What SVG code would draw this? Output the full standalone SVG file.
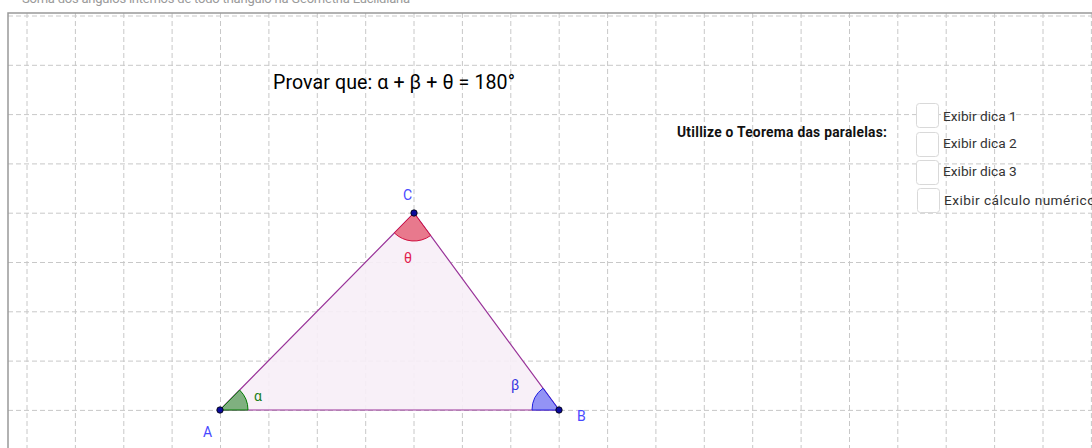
<svg xmlns="http://www.w3.org/2000/svg" width="1092" height="448" viewBox="0 0 1092 448">
<style>
.grid line{stroke:#c8c8c8;stroke-width:1;stroke-dasharray:5,3}
.t{font-family:Roboto,"Liberation Sans",sans-serif}
.cb{fill:#fff;stroke:#d9d9d9;stroke-width:1}
.cbl{font-family:Roboto,"Liberation Sans",sans-serif;font-size:13.7px;fill:#333}
.pt{fill:#0a0a9a;stroke:#000;stroke-width:0.8}
.lbl{font-family:Roboto,"Liberation Sans",sans-serif;font-size:14px}
</style>
<rect width="1092" height="448" fill="#fff"/>
<text class="t" x="22" y="3" font-size="13" fill="#9a9a9a" textLength="388">Soma dos ângulos internos de todo triângulo na Geometria Euclidiana</text>
<g class="grid" id="grid">
<line x1="8" y1="16" x2="1092" y2="16"/>
<line x1="8" y1="65.3" x2="1092" y2="65.3"/>
<line x1="8" y1="114.6" x2="1092" y2="114.6"/>
<line x1="8" y1="163.9" x2="1092" y2="163.9"/>
<line x1="8" y1="213.2" x2="1092" y2="213.2"/>
<line x1="8" y1="262.5" x2="1092" y2="262.5"/>
<line x1="8" y1="311.8" x2="1092" y2="311.8"/>
<line x1="8" y1="361.1" x2="1092" y2="361.1"/>
<line x1="8" y1="410.4" x2="1092" y2="410.4"/>
<line x1="27" y1="13" x2="27" y2="448"/>
<line x1="75.4" y1="13" x2="75.4" y2="448"/>
<line x1="123.8" y1="13" x2="123.8" y2="448"/>
<line x1="172.1" y1="13" x2="172.1" y2="448"/>
<line x1="220.5" y1="13" x2="220.5" y2="448"/>
<line x1="268.9" y1="13" x2="268.9" y2="448"/>
<line x1="317.3" y1="13" x2="317.3" y2="448"/>
<line x1="365.7" y1="13" x2="365.7" y2="448"/>
<line x1="414" y1="13" x2="414" y2="448"/>
<line x1="462.4" y1="13" x2="462.4" y2="448"/>
<line x1="510.8" y1="13" x2="510.8" y2="448"/>
<line x1="559.2" y1="13" x2="559.2" y2="448"/>
<line x1="607.6" y1="13" x2="607.6" y2="448"/>
<line x1="655.9" y1="13" x2="655.9" y2="448"/>
<line x1="704.3" y1="13" x2="704.3" y2="448"/>
<line x1="752.7" y1="13" x2="752.7" y2="448"/>
<line x1="801.1" y1="13" x2="801.1" y2="448"/>
<line x1="849.5" y1="13" x2="849.5" y2="448"/>
<line x1="897.8" y1="13" x2="897.8" y2="448"/>
<line x1="946.2" y1="13" x2="946.2" y2="448"/>
<line x1="994.6" y1="13" x2="994.6" y2="448"/>
<line x1="1043" y1="13" x2="1043" y2="448"/>
<line x1="1091.4" y1="13" x2="1091.4" y2="448"/>
</g>
<path d="M8,448 V13 H1092" fill="none" stroke="#999" stroke-width="1.5"/>
<g id="title"><text class="t" x="273" y="89" font-size="19.6" fill="#000" textLength="242">Provar que: α + β + θ = 180°</text></g>
<g id="hint"><text class="t" x="677" y="137" font-size="13.8" font-weight="bold" fill="#111" textLength="210">Utillize o Teorema das paralelas:</text></g>
<g id="check1"><rect class="cb" x="916.5" y="103.5" width="22" height="24" rx="3"/><text class="cbl" x="943" y="121">Exibir dica 1</text></g>
<g id="check2"><rect class="cb" x="916.5" y="132.5" width="22" height="24" rx="3"/><text class="cbl" x="943" y="148">Exibir dica 2</text></g>
<g id="check3"><rect class="cb" x="916.5" y="160.5" width="22" height="24" rx="3"/><text class="cbl" x="943" y="176">Exibir dica 3</text></g>
<g id="check4"><rect class="cb" x="917.5" y="188.5" width="22" height="24" rx="3"/><text class="cbl" x="944" y="205" textLength="151">Exibir cálculo numérico</text></g>
<g id="triangle"><polygon points="220,410 559,410 414,213" fill="#f7eef7" fill-opacity="0.9" stroke="#993399" stroke-width="1.2"/></g>
<g id="angle-alpha"><path d="M220,410 L248,410 A28,28 0 0 0 239.65,390.05 Z" fill="#7fb07f" stroke="#007a00" stroke-width="1"/><text class="lbl" x="254" y="401" fill="#1a7f1a">α</text></g>
<g id="angle-beta"><path d="M559,410 L532,410 A27,27 0 0 1 543,388.25 Z" fill="#9393f5" stroke="#2020e0" stroke-width="1"/><text class="lbl" x="511" y="390" fill="#3535e0">β</text></g>
<g id="angle-theta"><path d="M414,213 L394.35,232.95 A28,28 0 0 0 430.6,235.55 Z" fill="#e8798d" stroke="#d01040" stroke-width="1"/><text class="lbl" x="404" y="263" fill="#e0204f">θ</text></g>
<g id="pointA"><circle class="pt" cx="220" cy="410" r="3.2"/><text class="lbl" x="203" y="437" fill="#4848ff">A</text></g>
<g id="pointB"><circle class="pt" cx="559" cy="410" r="3.2"/><text class="lbl" x="577" y="421" fill="#4848ff">B</text></g>
<g id="pointC"><circle class="pt" cx="414" cy="213" r="3.2"/><text class="lbl" x="403" y="200" fill="#4848ff">C</text></g>
</svg>
